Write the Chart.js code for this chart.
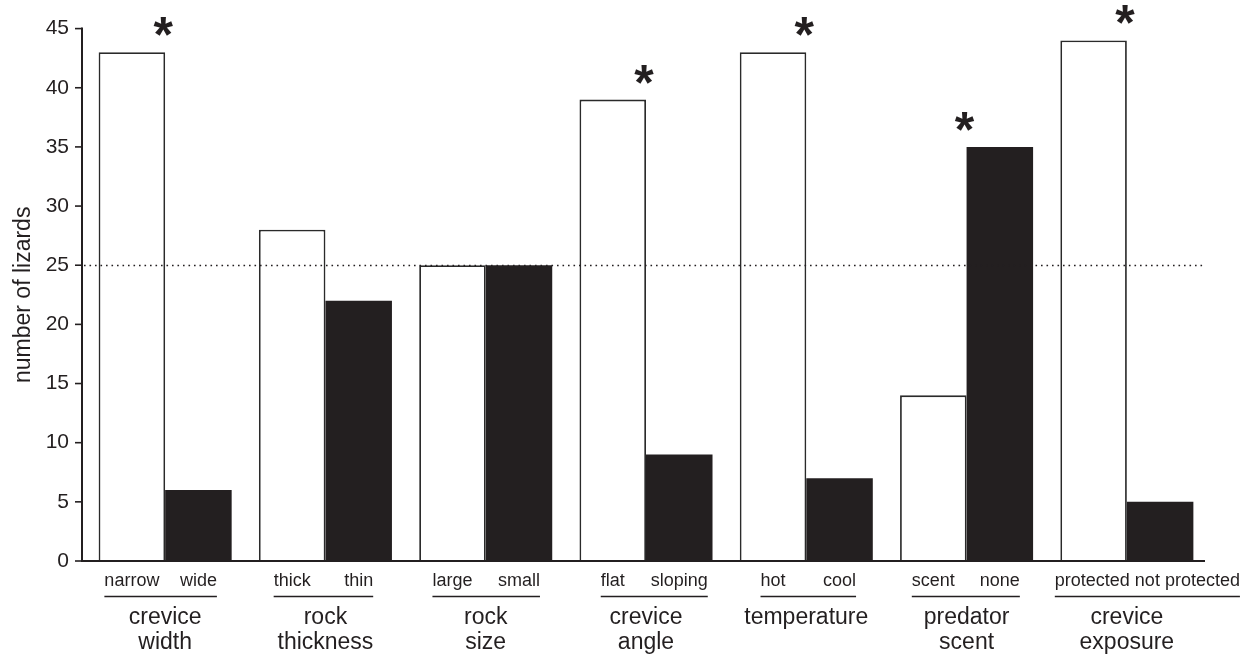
<!DOCTYPE html>
<html><head><meta charset="utf-8">
<script src="https://cdn.jsdelivr.net/npm/chart.js@4"></script>
<style>html,body{margin:0;padding:0;background:#fff}#wrap{width:1257px;height:654px}</style>
</head><body><div id="wrap"><canvas id="c" width="1257" height="654"></canvas></div>
<script>
const groupLabels = [['crevice','width'],['rock','thickness'],['rock','size'],['crevice','angle'],['temperature'],['predator','scent'],['crevice','exposure']];
const firstLabels = ['narrow','thick','large','flat','hot','scent','protected'];
const secondLabels = ['wide','thin','small','sloping','cool','none','not protected'];
const firstValues = [43,28,25,39,43,14,44];
const secondValues = [6,22,25,9,7,35,5];
const significant = [true,false,false,true,true,true,true];
const yTicks = [0,5,10,15,20,25,30,35,40,45];
const expectedValue = 25;

const INK = '#231f20';
const FONT = '"Liberation Sans", Arial, Helvetica, sans-serif';

const decor = {
  id: 'decor',
  afterDatasetsDraw(chart) {
    const ctx = chart.ctx;
    const y = chart.scales.y;
    const ca = chart.chartArea;
    const axX = ca.left - 3;
    const axRight = ca.right - 2;
    const y0 = y.getPixelForValue(0);
    ctx.save();
    // dotted expected line
    ctx.strokeStyle = INK; ctx.lineWidth = 1.5;
    ctx.setLineDash([1.6, 3.9]);
    const ye = Math.round(y.getPixelForValue(expectedValue)) + 0.5;
    ctx.beginPath(); ctx.moveTo(axX + 2, ye); ctx.lineTo(axRight, ye); ctx.stroke();
    ctx.setLineDash([]);
    // axes
    ctx.lineWidth = 2;
    ctx.beginPath();
    ctx.moveTo(axX, y.getPixelForValue(yTicks[yTicks.length-1]) - 1);
    ctx.lineTo(axX, y0);
    ctx.lineTo(axRight, y0);
    ctx.stroke();
    ctx.lineWidth = 1.6;
    yTicks.forEach(v => {
      const p = y.getPixelForValue(v);
      ctx.beginPath(); ctx.moveTo(axX - 7, p); ctx.lineTo(axX, p); ctx.stroke();
    });
    // bottom labels
    const m0 = chart.getDatasetMeta(0).data;
    const m1 = chart.getDatasetMeta(1).data;
    ctx.fillStyle = INK;
    ctx.textBaseline = 'alphabetic';
    ctx.font = '18px ' + FONT;
    const subBase = 586, lineY = 596.5;
    for (let i = 0; i < firstLabels.length; i++) {
      const b0 = m0[i], b1 = m1[i];
      const w0 = ctx.measureText(firstLabels[i]).width;
      const w1 = ctx.measureText(secondLabels[i]).width;
      let l0 = b0.x - w0/2, l1 = b1.x - w1/2;
      if (l0 + w0 + 6 > l1) {
        const boundary = (b0.x + b1.x)/2;
        l0 = boundary + 3 - w0;
        l1 = l0 + w0 + 5;
      }
      ctx.textAlign = 'left';
      ctx.fillText(firstLabels[i], l0, subBase);
      ctx.fillText(secondLabels[i], l1, subBase);
      ctx.lineWidth = 1.4;
      ctx.beginPath(); ctx.moveTo(l0, lineY); ctx.lineTo(l1 + w1, lineY); ctx.stroke();
    }
    ctx.font = '23px ' + FONT;
    ctx.textAlign = 'center';
    const xs = chart.scales.x;
    groupLabels.forEach((g, i) => {
      const cx = xs.getPixelForValue(i);
      g.forEach((t, k) => ctx.fillText(t, cx, 624 + k*25));
    });
    // asterisks
    const astSize = 50;
    ctx.font = 'bold ' + astSize + 'px ' + FONT;
    ctx.textAlign = 'center';
    significant.forEach((s, i) => {
      if (!s) return;
      const top = y.getPixelForValue(Math.max(firstValues[i], secondValues[i]));
      const cx = xs.getPixelForValue(i) - 2;
      ctx.fillText('*', cx, top - 28 + 0.56 * astSize);
    });
    ctx.restore();
  }
};

new Chart(document.getElementById('c'), {
  type: 'bar',
  data: {
    labels: groupLabels.map(g => g.join(' ')),
    datasets: [
      { data: firstValues, backgroundColor: '#ffffff', borderColor: '#2a2a2a', borderWidth: 1.8 },
      { data: secondValues, backgroundColor: INK, borderWidth: 0 }
    ]
  },
  options: {
    responsive: false,
    animation: false,
    devicePixelRatio: 1,
    layout: { padding: { top: 23, right: 50, bottom: 93, left: 0 } },
    datasets: { bar: { categoryPercentage: 0.83, barPercentage: 1.0 } },
    plugins: { legend: { display: false }, tooltip: { enabled: false } },
    scales: {
      x: { display: false },
      y: {
        min: 0, max: 45,
        grid: { display: false, drawTicks: false },
        border: { display: false },
        afterBuildTicks: s => { s.ticks = yTicks.map(v => ({ value: v })); },
        afterFit: s => { s.width = 85; },
        ticks: { padding: 16, color: INK, font: { size: 21, family: FONT } },
        title: { display: true, text: 'number of lizards', color: INK, font: { size: 23, family: FONT }, padding: { top: 10, bottom: 0 } }
      }
    }
  },
  plugins: [decor]
});
</script>
</body></html>
